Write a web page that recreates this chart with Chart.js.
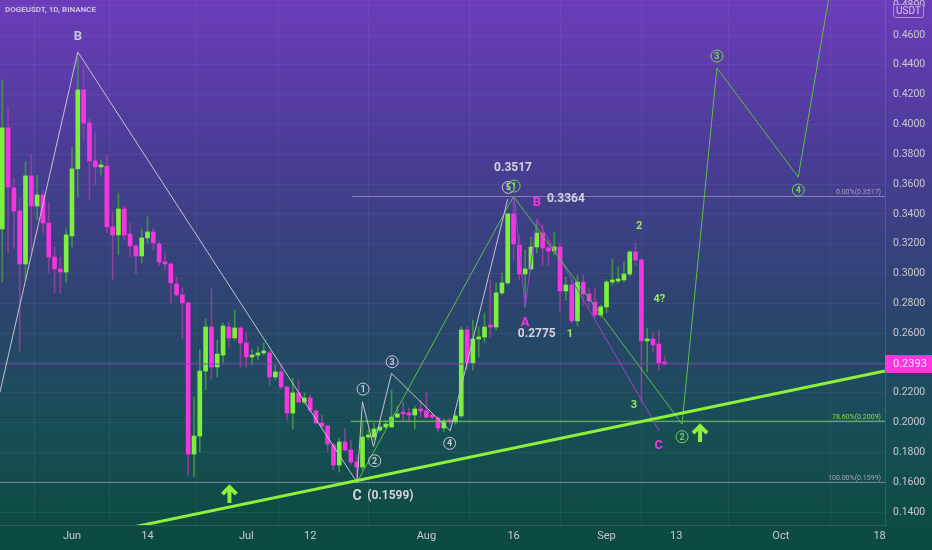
<!DOCTYPE html>
<html>
<head>
<meta charset="utf-8">
<script src="https://cdn.jsdelivr.net/npm/chart.js@4.4.0/dist/chart.umd.min.js"></script>
<style>
html, body { margin: 0; padding: 0; background: #2c3f70; }
canvas { display: block; }
</style>
</head>
<body>
<canvas id="chart" width="932" height="550"></canvas>
<script>
// DOGEUSDT daily candles, 20 May .. 11 Sep (day 0 = 1 Jun)
const firstDay = -12;
const opens = [
  0.3299, 0.3977, 0.3574, 0.3420, 0.3064, 0.3655, 0.3453, 0.3527, 0.3339, 0.3111, 0.3031, 0.3010,
  0.3252, 0.3702, 0.4232, 0.4010, 0.3755, 0.3715, 0.3720, 0.3313, 0.3259, 0.3433, 0.3265, 0.3185,
  0.3118, 0.3239, 0.3279, 0.3198, 0.3078, 0.3064, 0.2930, 0.2856, 0.2803, 0.1789, 0.1910, 0.2346,
  0.2641, 0.2373, 0.2453, 0.2641, 0.2568, 0.2635, 0.2534, 0.2440, 0.2453, 0.2467, 0.2467, 0.2306,
  0.2340, 0.2239, 0.2064, 0.2199, 0.2138, 0.2165, 0.2078, 0.1997, 0.1977, 0.1850, 0.1715, 0.1870,
  0.1816, 0.1736, 0.1702, 0.1903, 0.1903, 0.1950, 0.1970, 0.1970, 0.2037, 0.2064, 0.2058, 0.2051,
  0.2091, 0.2078, 0.2044, 0.2031, 0.1964, 0.2011, 0.2004, 0.2044, 0.2621, 0.2400, 0.2561, 0.2574,
  0.2648, 0.2641, 0.2870, 0.2937, 0.3400, 0.3191, 0.2997, 0.3031, 0.3178, 0.3272, 0.3172, 0.3151,
  0.3178, 0.2883, 0.2923, 0.2682, 0.2943, 0.2863, 0.2809, 0.2722, 0.2776, 0.2943, 0.2950, 0.2957,
  0.2997, 0.3145, 0.3091, 0.2548, 0.2561, 0.2527, 0.2400
];
const highs = [
  0.4300, 0.4118, 0.3641, 0.3507, 0.3749, 0.3802, 0.3661, 0.3560, 0.3474, 0.3178, 0.3111, 0.3299,
  0.3849, 0.4450, 0.4400, 0.4044, 0.3950, 0.3762, 0.3796, 0.3413, 0.3540, 0.3453, 0.3339, 0.3192,
  0.3299, 0.3380, 0.3306, 0.3212, 0.3138, 0.3070, 0.2977, 0.2903, 0.2810, 0.2172, 0.2487, 0.2695,
  0.2896, 0.2554, 0.2668, 0.2675, 0.2756, 0.2648, 0.2608, 0.2494, 0.2507, 0.2534, 0.2480, 0.2386,
  0.2386, 0.2245, 0.2299, 0.2286, 0.2199, 0.2185, 0.2085, 0.2051, 0.1983, 0.1860, 0.1897, 0.1964,
  0.1883, 0.1783, 0.1997, 0.1950, 0.1997, 0.2004, 0.2017, 0.2219, 0.2111, 0.2138, 0.2098, 0.2111,
  0.2151, 0.2199, 0.2058, 0.2037, 0.2024, 0.2031, 0.2058, 0.2641, 0.2641, 0.2688, 0.2641, 0.2735,
  0.2957, 0.2937, 0.3004, 0.3406, 0.3517, 0.3259, 0.3158, 0.3245, 0.3339, 0.3326, 0.3225, 0.3279,
  0.3205, 0.2977, 0.2957, 0.2990, 0.2990, 0.2903, 0.2903, 0.2789, 0.2957, 0.3098, 0.3044, 0.3078,
  0.3151, 0.3205, 0.3098, 0.2635, 0.2608, 0.2621, 0.2447
];
const lows = [
  0.2943, 0.3138, 0.3172, 0.2480, 0.2957, 0.3138, 0.3360, 0.3272, 0.3004, 0.2870, 0.2870, 0.2937,
  0.3178, 0.3514, 0.3896, 0.3494, 0.3594, 0.3661, 0.3272, 0.2957, 0.3125, 0.3225, 0.3111, 0.2997,
  0.3071, 0.3205, 0.3158, 0.3051, 0.3024, 0.2803, 0.2850, 0.2561, 0.1648, 0.1635, 0.1803, 0.2219,
  0.2293, 0.2306, 0.2400, 0.2507, 0.2554, 0.2373, 0.2373, 0.2386, 0.2420, 0.2453, 0.2252, 0.2286,
  0.2225, 0.2017, 0.1957, 0.2130, 0.2125, 0.2071, 0.1990, 0.1964, 0.1803, 0.1682, 0.1668, 0.1810,
  0.1720, 0.1599, 0.1680, 0.1883, 0.1883, 0.1937, 0.1957, 0.1970, 0.2031, 0.2017, 0.2004, 0.1957,
  0.2037, 0.2031, 0.2024, 0.1937, 0.1937, 0.1990, 0.1990, 0.2031, 0.2353, 0.2353, 0.2440, 0.2534,
  0.2574, 0.2621, 0.2856, 0.2924, 0.3091, 0.2957, 0.2775, 0.3017, 0.3138, 0.3058, 0.3058, 0.3125,
  0.2742, 0.2823, 0.2668, 0.2648, 0.2789, 0.2775, 0.2702, 0.2708, 0.2735, 0.2923, 0.2937, 0.2943,
  0.2984, 0.3058, 0.2138, 0.2340, 0.2474, 0.2353, 0.2386
];
const closes = [
  0.3977, 0.3581, 0.3420, 0.3064, 0.3655, 0.3453, 0.3527, 0.3339, 0.3111, 0.3031, 0.3010, 0.3259,
  0.3702, 0.4232, 0.4010, 0.3755, 0.3715, 0.3720, 0.3313, 0.3259, 0.3433, 0.3259, 0.3185, 0.3118,
  0.3239, 0.3279, 0.3205, 0.3078, 0.3064, 0.2937, 0.2856, 0.2803, 0.1789, 0.1910, 0.2346, 0.2641,
  0.2373, 0.2460, 0.2648, 0.2568, 0.2635, 0.2534, 0.2440, 0.2453, 0.2467, 0.2472, 0.2306, 0.2340,
  0.2239, 0.2064, 0.2199, 0.2138, 0.2165, 0.2084, 0.1997, 0.1977, 0.1856, 0.1715, 0.1870, 0.1816,
  0.1736, 0.1702, 0.1903, 0.1910, 0.1957, 0.1970, 0.1990, 0.2037, 0.2058, 0.2058, 0.2051, 0.2091,
  0.2078, 0.2037, 0.2037, 0.1964, 0.2011, 0.2004, 0.2044, 0.2621, 0.2400, 0.2561, 0.2574, 0.2641,
  0.2641, 0.2870, 0.2937, 0.3400, 0.3198, 0.2997, 0.3031, 0.3178, 0.3272, 0.3172, 0.3151, 0.3178,
  0.2883, 0.2923, 0.2682, 0.2943, 0.2863, 0.2816, 0.2722, 0.2776, 0.2943, 0.2950, 0.2963, 0.2997,
  0.3145, 0.3091, 0.2548, 0.2561, 0.2521, 0.2400, 0.2393
];

// axes
const tickDays = [0, 13, 30, 41, 61, 76, 92, 104, 122, 139];
const tickLabels = ['Jun', '14', 'Jul', '12', 'Aug', '16', 'Sep', '13', 'Oct', '18'];
const priceTicks = [0.14, 0.16, 0.18, 0.20, 0.22, 0.24, 0.26, 0.28, 0.30, 0.32, 0.34, 0.36, 0.38, 0.40, 0.42, 0.44, 0.46, 0.48];

// drawings, [day, price]
const waveABC = [[-12.4, 0.2205], [1, 0.4486], [49.05, 0.1599]];
const waveSub = [[49.05, 0.1599], [50, 0.2140], [51.9, 0.1838], [55, 0.2330], [65.1, 0.1945], [75, 0.3500]];
const waveGreen = [[49.05, 0.1599], [76, 0.3517], [105, 0.1990], [111, 0.4379], [125, 0.3647], [131, 0.5020]];
const waveCorr = [[76.1, 0.3513], [78, 0.2775], [80, 0.3364], [101.1, 0.1943]];
const trendLine = [[0, 0.1214], [139.9, 0.2346]];
const lastPrice = 0.2393;
const fibTop = 0.3517;
const fibMid = 0.2009;
const fibLow = 0.1599;

const GREEN = '#7df03c';
const PINK = '#f535e0';

const textNotes = [
  [1.03, 0.4587, 'B', '#c9c9d2', 'bold 13px Roboto'],
  [75.9, 0.3708, '0.3517', '#d4d4dc', 'bold 12px Roboto'],
  [85.0, 0.3500, '0.3364', '#d4d4dc', 'bold 12px Roboto'],
  [80.0, 0.2594, '0.2775', '#d4d4dc', 'bold 12px Roboto'],
  [49.05, 0.1501, 'C', '#d4d4dc', 'bold 14px Roboto'],
  [54.8, 0.1507, '(0.1599)', '#d4d4dc', 'bold 12px Roboto'],
  [80.0, 0.3473, 'B', PINK, 'bold 13px Roboto'],
  [78.0, 0.2668, 'A', PINK, 'bold 13px Roboto'],
  [101.0, 0.1843, 'C', PINK, 'bold 13px Roboto'],
  [97.6, 0.3319, '2', '#9fe85a', 'bold 11px Roboto'],
  [85.7, 0.2594, '1', '#9fe85a', 'bold 11px Roboto'],
  [96.7, 0.2118, '3', '#9fe85a', 'bold 11px Roboto'],
  [101.1, 0.2829, '4?', '#9fe85a', 'bold 11px Roboto']
];
const circleNotes = [
  [50.1, 0.2225, '1', '#c9c9d2'],
  [52.1, 0.1744, '2', '#c9c9d2'],
  [55.1, 0.2408, '3', '#c9c9d2'],
  [65.0, 0.1861, '4', '#c9c9d2'],
  [75.1, 0.3578, '5', '#c9c9d2'],
  [76.1, 0.3587, '1', '#6fd84a'],
  [105.0, 0.1905, '2', '#6fd84a'],
  [111.0, 0.4459, '3', '#6fd84a'],
  [125.0, 0.3560, '4', '#6fd84a']
];
const arrowNotes = [[27.1, 0.1581], [108.1, 0.1990]];

const candleDays = opens.map((_, i) => firstDay + i);
const isUp = i => closes[i] >= opens[i];

const toPoints = pts => pts.map(([x, y]) => ({ x, y }));
const lineSet = (pts, color, width) => ({
  type: 'line',
  data: toPoints(pts),
  borderColor: color,
  borderWidth: width,
  pointRadius: 0,
  tension: 0,
  fill: false,
  order: 1
});

const bgPlugin = {
  id: 'bg',
  beforeDraw(chart) {
    const { ctx, width, height } = chart;
    const g = ctx.createLinearGradient(0, 0, 0, height);
    g.addColorStop(0, '#6c3cba');
    g.addColorStop(0.28, '#4a3c96');
    g.addColorStop(0.55, '#2d4470');
    g.addColorStop(0.78, '#174e56');
    g.addColorStop(1, '#0b4a3e');
    ctx.save();
    ctx.fillStyle = g;
    ctx.fillRect(0, 0, width, height);
    ctx.restore();
  }
};

const notesPlugin = {
  id: 'notes',
  afterDatasetsDraw(chart) {
    const { ctx, chartArea } = chart;
    const xs = chart.scales.x, ys = chart.scales.y;
    ctx.save();
    ctx.textAlign = 'center';
    ctx.textBaseline = 'middle';
    textNotes.forEach(([d, p, t, c, f]) => {
      ctx.font = f;
      ctx.fillStyle = c;
      ctx.fillText(t, xs.getPixelForValue(d), ys.getPixelForValue(p));
    });
    circleNotes.forEach(([d, p, t, c]) => {
      const x = xs.getPixelForValue(d), y = ys.getPixelForValue(p);
      ctx.strokeStyle = c;
      ctx.lineWidth = 1;
      ctx.beginPath();
      ctx.arc(x, y, 6, 0, Math.PI * 2);
      ctx.stroke();
      ctx.font = 'bold 9px Roboto';
      ctx.fillStyle = c;
      ctx.fillText(t, x, y + 0.5);
    });
    ctx.strokeStyle = '#8ff03a';
    ctx.lineWidth = 4;
    ctx.lineJoin = 'miter';
    arrowNotes.forEach(([d, p]) => {
      const x = xs.getPixelForValue(d), y = ys.getPixelForValue(p);
      ctx.beginPath();
      ctx.moveTo(x - 7, y + 9);
      ctx.lineTo(x, y + 2);
      ctx.lineTo(x + 7, y + 9);
      ctx.moveTo(x, y + 3);
      ctx.lineTo(x, y + 18);
      ctx.stroke();
    });
    // fib level captions
    ctx.textAlign = 'right';
    ctx.textBaseline = 'bottom';
    ctx.font = '7px Roboto';
    [[fibTop, '0.00%(0.3517)', '#a89fc6'], [fibMid, '78.60%(0.2009)', '#86dc5e'], [fibLow, '100.00%(0.1599)', '#a7a2bc']]
      .forEach(([v, t, c]) => {
        ctx.fillStyle = c;
        ctx.fillText(t, chartArea.right - 4, ys.getPixelForValue(v) - 1);
      });
    ctx.restore();
  },
  afterDraw(chart) {
    const { ctx, chartArea, width } = chart;
    const ys = chart.scales.y;
    ctx.save();
    // last price tag
    const py = ys.getPixelForValue(lastPrice);
    ctx.fillStyle = '#fb36dc';
    ctx.fillRect(chartArea.right, py - 9, width - chartArea.right, 18);
    ctx.fillStyle = '#fde6fb';
    ctx.font = '11px Roboto';
    ctx.textAlign = 'left';
    ctx.textBaseline = 'middle';
    ctx.fillText(lastPrice.toFixed(4), chartArea.right + 8, py + 0.5);
    // currency box
    ctx.fillStyle = '#6a3cb7';
    ctx.strokeStyle = 'rgba(190,185,215,0.7)';
    ctx.lineWidth = 1;
    ctx.beginPath();
    ctx.roundRect(chartArea.right + 8.5, 4.5, 30, 13, 2);
    ctx.fill();
    ctx.stroke();
    ctx.fillStyle = '#d2d0e0';
    ctx.font = '10px Roboto';
    ctx.textAlign = 'center';
    ctx.fillText('USDT', chartArea.right + 23.5, 11.5);
    // symbol title
    ctx.textAlign = 'left';
    ctx.font = 'bold 8px Roboto';
    ctx.fillStyle = '#cbc3de';
    ctx.fillText('DOGEUSDT, 1D, BINANCE', 5, 9.5);
    ctx.restore();
  }
};

new Chart(document.getElementById('chart'), {
  type: 'bar',
  data: {
    datasets: [
      lineSet(trendLine, '#8ff03a', 3),
      lineSet(waveABC, '#c3c3cc', 1),
      lineSet(waveSub, '#c3c3cc', 1),
      lineSet(waveGreen, '#5cbf45', 1),
      lineSet(waveCorr, '#a043d0', 1),
      lineSet([[48.2, fibTop], [139.9, fibTop]], 'rgba(165,150,195,0.75)', 1),
      lineSet([[48.0, fibMid], [139.9, fibMid]], '#74cc58', 1),
      lineSet([[-12.4, fibLow], [139.9, fibLow]], 'rgba(160,150,190,0.75)', 1),
      lineSet([[-12.4, lastPrice], [139.9, lastPrice]], 'rgba(140,60,180,0.9)', 1),
      {
        data: candleDays.map((d, i) => ({ x: d, y: [opens[i], closes[i]] })),
        backgroundColor: ctx => isUp(ctx.dataIndex) ? GREEN : PINK,
        barThickness: 4,
        minBarLength: 2,
        grouped: false,
        order: 10
      },
      {
        data: candleDays.map((d, i) => ({ x: d, y: [lows[i], highs[i]] })),
        backgroundColor: ctx => isUp(ctx.dataIndex) ? '#3f9148' : '#8a4199',
        barThickness: 1,
        grouped: false,
        order: 11
      }
    ]
  },
  options: {
    responsive: false,
    animation: false,
    layout: { padding: 0, autoPadding: false },
    plugins: { legend: { display: false }, tooltip: { enabled: false } },
    scales: {
      x: {
        type: 'linear',
        min: -12.39,
        max: 139.93,
        offset: false,
        afterFit: s => { s.height = 25; s.paddingLeft = 0; s.paddingRight = 0; },
        afterBuildTicks: s => { s.ticks = tickDays.map(v => ({ value: v })); },
        grid: { color: 'rgba(255,255,255,0.05)', drawTicks: false },
        border: { color: 'rgba(255,255,255,0.12)' },
        ticks: {
          padding: 5,
          color: '#c9c9d0',
          font: { family: 'Roboto', size: 11 },
          maxRotation: 0,
          autoSkip: false,
          callback: v => tickLabels[tickDays.indexOf(v)]
        }
      },
      y: {
        position: 'right',
        min: 0.1313,
        max: 0.4835,
        afterFit: s => { s.width = 47; s.paddingTop = 0; s.paddingBottom = 0; },
        afterBuildTicks: s => { s.ticks = priceTicks.map(v => ({ value: v })); },
        grid: { color: 'rgba(255,255,255,0.05)', drawTicks: false },
        border: { color: 'rgba(255,255,255,0.12)' },
        ticks: {
          padding: 8,
          color: '#c9c9d0',
          font: { family: 'Roboto', size: 10.5 },
          callback: v => v.toFixed(4)
        }
      }
    }
  },
  plugins: [bgPlugin, notesPlugin]
});
</script>
</body>
</html>
